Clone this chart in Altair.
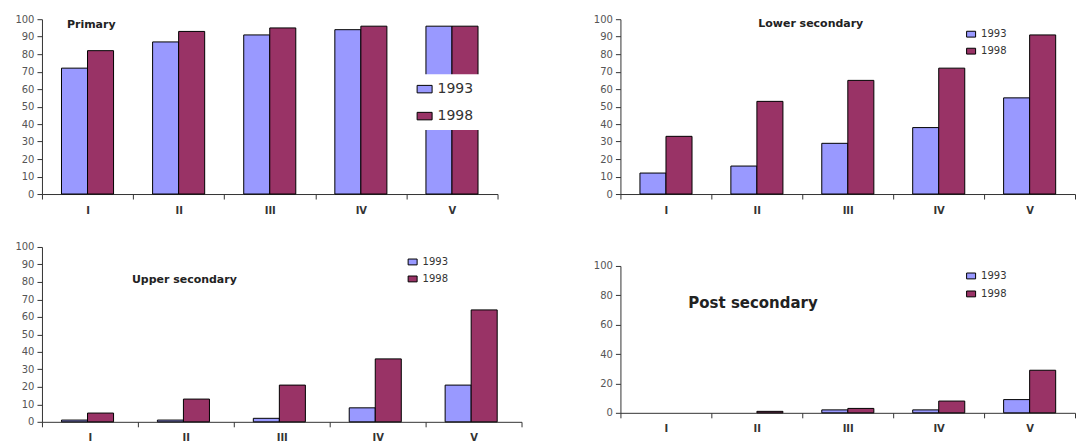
import altair as alt
import pandas as pd

categories = ["I", "II", "III", "IV", "V"]
years = ["1993", "1998"]
primary_1993 = [72, 87, 91, 94, 96]
primary_1998 = [82, 93, 95, 96, 96]
lower_1993 = [12, 16, 29, 38, 55]
lower_1998 = [33, 53, 65, 72, 91]
upper_1993 = [1, 1, 2, 8, 21]
upper_1998 = [5, 13, 21, 36, 64]
post_1993 = [0, 0, 2, 2, 9]
post_1998 = [0, 1, 3, 8, 29]
titles = ["Primary", "Lower secondary", "Upper secondary", "Post secondary"]
ticks10 = [0, 10, 20, 30, 40, 50, 60, 70, 80, 90, 100]
ticks20 = [0, 20, 40, 60, 80, 100]
colors = ["#9999FF", "#993366"]

FONT = "DejaVu Sans"


def frame(v93, v98):
    rows = []
    for c, a, b in zip(categories, v93, v98):
        rows.append({"cat": c, "year": years[0], "value": a})
        rows.append({"cat": c, "year": years[1], "value": b})
    return pd.DataFrame(rows)


def panel(df, title, width, height, yvals, legend, tx, ty, tsize,
          bar_pad=0.75):
    bars = alt.Chart(df).transform_filter("datum.value > 0").mark_bar(
        stroke="black", strokeWidth=1
    ).encode(
        x=alt.X("cat:N", sort=categories,
                scale=alt.Scale(domain=categories, paddingInner=0, paddingOuter=0),
                axis=alt.Axis(title=None, labelAngle=0, tickBand="extent",
                              labelFont=FONT, labelFontSize=10,
                              labelFontWeight="bold", labelColor="#333",
                              tickSize=5, tickColor="#333", domainColor="#333",
                              labelPadding=6, grid=False)),
        xOffset=alt.XOffset("year:N", sort=years,
                            scale=alt.Scale(domain=years, paddingOuter=bar_pad,
                                            paddingInner=0)),
        y=alt.Y("value:Q", scale=alt.Scale(domain=[0, 100], nice=False),
                axis=alt.Axis(title=None, values=yvals, labelFont=FONT,
                              labelFontSize=10, labelColor="#555",
                              tickSize=5, tickColor="#333", domainColor="#333",
                              labelPadding=3, minExtent=34, maxExtent=34,
                              grid=False)),
        color=alt.Color("year:N", scale=alt.Scale(domain=years, range=colors),
                        legend=legend),
    )
    txt = alt.Chart(pd.DataFrame({"t": [title]})).mark_text(
        align="left", baseline="middle", font=FONT, fontWeight="bold",
        fontSize=tsize, color="#222"
    ).encode(x=alt.value(tx), y=alt.value(ty), text="t:N")
    return alt.layer(bars, txt).properties(width=width, height=height)


def small_legend(lx, ly, rp=7):
    return alt.Legend(orient="none", legendX=lx, legendY=ly, title=None,
                      direction="vertical",
                      symbolType="M-1,-0.65H1V0.65H-1Z", symbolSize=81,
                      symbolStrokeColor="black", symbolStrokeWidth=1,
                      symbolOpacity=1, labelFont=FONT, labelFontSize=10,
                      labelColor="#333", labelOffset=5, rowPadding=rp,
                      padding=0)


big_legend = alt.Legend(orient="none", legendX=368, legendY=55, title=None,
                        direction="vertical",
                        symbolType="M-1,-0.5H1V0.5H-1Z", symbolSize=225,
                        symbolStrokeColor="black", symbolStrokeWidth=1,
                        symbolOpacity=1, labelFont=FONT, labelFontSize=14,
                        labelColor="#333", labelOffset=5, rowPadding=12,
                        padding=7, fillColor="white")

p1 = panel(frame(primary_1993, primary_1998), titles[0], 456, 175, ticks10,
           big_legend, 25, 6, 11)
p2 = panel(frame(lower_1993, lower_1998), titles[1], 455, 175, ticks10,
           small_legend(346, 10), 138, 5, 11)
p3 = panel(frame(upper_1993, upper_1998), titles[2], 480, 175, ticks10,
           small_legend(366, 10), 90, 33, 11, bar_pad=0.65)
p4 = panel(frame(post_1993, post_1998), titles[3], 455, 147, ticks20,
           small_legend(346, 5, 8), 68, 37, 15)

spacer = alt.Chart(pd.DataFrame({"s": [0]})).mark_rect(opacity=0).encode(
    x=alt.value(0), x2=alt.value(1), y=alt.value(0), y2=alt.value(14)
).properties(width=1, height=14)

col4 = alt.vconcat(spacer, p4, spacing=0).resolve_scale(color="independent")
row1 = alt.hconcat(p1, p2, spacing=88).resolve_scale(color="independent")
row2 = alt.hconcat(p3, col4, spacing=64).resolve_scale(color="independent")
chart = alt.vconcat(row1, row2, spacing=27).resolve_scale(
    color="independent"
).properties(
    padding={"left": 0, "top": 6, "right": 0, "bottom": 0},
    background="white",
).configure_view(stroke=None, strokeWidth=0)

chart.save("out.html", embed_options={"renderer": "svg", "actions": False})
